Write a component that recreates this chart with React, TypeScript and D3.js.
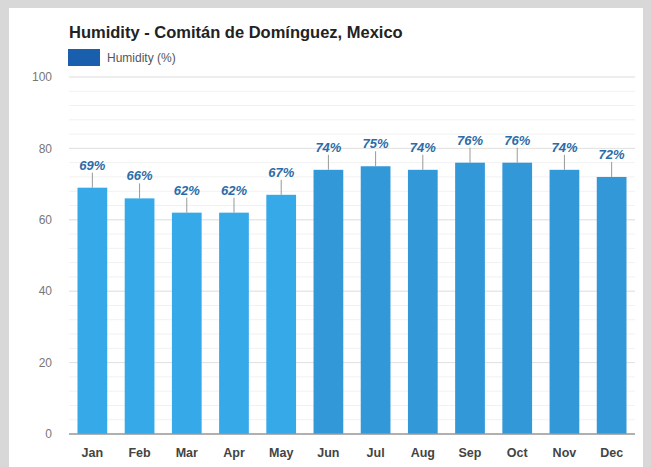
import * as d3 from "d3";

const months = ["Jan", "Feb", "Mar", "Apr", "May", "Jun", "Jul", "Aug", "Sep", "Oct", "Nov", "Dec"];
const humidity = [69, 66, 62, 62, 67, 74, 75, 74, 76, 76, 74, 72];
const yTicks = [0, 20, 40, 60, 80, 100];
const minorTicks = d3.range(0, 101, 4);

const W = 651;
const H = 467;
const M = { top: 77, right: 16, bottom: 33, left: 69 };

const FONT = "'Liberation Sans', Arial, sans-serif";

export default function App() {
  const x = d3
    .scaleBand()
    .domain(months)
    .range([M.left, W - M.right])
    .paddingInner(0.37)
    .paddingOuter(0.18);

  const y = d3.scaleLinear().domain([0, 100]).range([H - M.bottom, M.top]);
  const bw = x.bandwidth();

  return (
    <svg
      width={W}
      height={H}
      style={{ position: "absolute", left: 0, top: 0, display: "block" }}
      fontFamily={FONT}
    >
      <rect x={0} y={0} width={W} height={H} fill="#d8d8d8" />
      <rect x={9} y={8} width={634} height={H - 8} fill="#ffffff" />

      <text x={69} y={38} fontSize={16.5} fontWeight="bold" fill="#222">
        Humidity - Comitán de Domínguez, Mexico
      </text>
      <rect x={68} y={49} width={32} height={17} fill="#1a5eae" />
      <text x={107} y={62} fontSize={12} fill="#555">
        Humidity (%)
      </text>

      {minorTicks.map((t) => (
        <line
          key={"m" + t}
          x1={M.left}
          x2={W - M.right}
          y1={y(t)}
          y2={y(t)}
          stroke="#f1f1f1"
        />
      ))}
      {yTicks.map((t) => (
        <g key={t}>
          {t > 0 && (
            <line x1={M.left} x2={W - M.right} y1={y(t)} y2={y(t)} stroke="#e2e2e2" />
          )}
          <text
            x={52}
            y={y(t)}
            dy="0.35em"
            textAnchor="end"
            fontSize={12}
            fill="#777"
          >
            {t}
          </text>
        </g>
      ))}

      {months.map((m, i) => {
        const v = humidity[i];
        const bx = x(m) ?? 0;
        const top = y(v);
        const cx = bx + bw / 2;
        return (
          <g key={m}>
            <rect
              x={bx}
              y={top}
              width={bw}
              height={y(0) - top}
              fill={i < 5 ? "#36a9e8" : "#3398d8"}
            />
            <line x1={cx} x2={cx} y1={top} y2={top - 15} stroke="#999" strokeWidth={1} />
            <text
              x={cx}
              y={top - 18}
              textAnchor="middle"
              fontSize={13}
              fontWeight="bold"
              fontStyle="italic"
              fill="#2b6ca8"
            >
              {v}%
            </text>
            <text
              x={cx}
              y={y(0) + 23}
              textAnchor="middle"
              fontSize={12.5}
              fontWeight="bold"
              fill="#444"
            >
              {m}
            </text>
          </g>
        );
      })}

      <line x1={M.left} x2={W - M.right} y1={y(0)} y2={y(0)} stroke="#999" strokeWidth={1.5} />
    </svg>
  );
}
